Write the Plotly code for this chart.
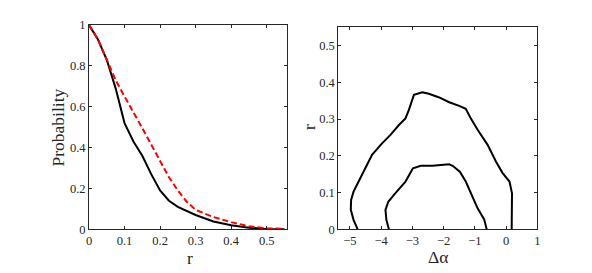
import plotly.graph_objects as go

# Left panel: probability vs r
r_black = [0, 0.025, 0.05, 0.075, 0.1, 0.125, 0.15, 0.175, 0.2, 0.225, 0.25, 0.3, 0.35, 0.4, 0.45, 0.5, 0.55]
p_black = [1, 0.93, 0.83, 0.69, 0.52, 0.43, 0.36, 0.27, 0.19, 0.14, 0.11, 0.07, 0.038, 0.02, 0.008, 0.002, 0]
r_red = [0, 0.025, 0.05, 0.075, 0.1, 0.125, 0.15, 0.175, 0.2, 0.225, 0.25, 0.275, 0.3, 0.35, 0.4, 0.45, 0.5, 0.55]
p_red = [1, 0.93, 0.83, 0.73, 0.65, 0.575, 0.495, 0.415, 0.335, 0.255, 0.19, 0.135, 0.095, 0.06, 0.035, 0.015, 0.005, 0.002]

# Right panel: contours in (delta alpha, r)
outer_da = [-4.75, -4.88, -4.97, -4.96, -4.88, -4.61, -4.29, -3.97, -3.70, -3.43, -3.22, -3.11, -2.95, -2.68,
            -2.47, -2.14, -1.82, -1.50, -1.29, -1.13, -0.91, -0.59, -0.32, -0.11, 0.11, 0.19, 0.18, 0.18]
outer_r = [0, 0.025, 0.053, 0.080, 0.103, 0.148, 0.203, 0.234, 0.257, 0.284, 0.302, 0.325, 0.366, 0.373,
           0.369, 0.359, 0.346, 0.336, 0.328, 0.302, 0.271, 0.230, 0.184, 0.153, 0.130, 0.098, 0.062, 0]
inner_da = [-3.75, -3.83, -3.86, -3.77, -3.59, -3.38, -3.22, -2.98, -2.73, -2.36, -1.82, -1.71, -1.48, -1.29,
            -1.07, -0.91, -0.70, -0.62]
inner_r = [0, 0.025, 0.053, 0.075, 0.094, 0.116, 0.130, 0.166, 0.173, 0.173, 0.177, 0.173, 0.157, 0.130,
           0.089, 0.057, 0.027, 0]

left_xticks = [0, 0.1, 0.2, 0.3, 0.4, 0.5]
left_yticks = [0, 0.2, 0.4, 0.6, 0.8, 1]
right_xticks = [-5, -4, -3, -2, -1, 0, 1]
right_yticks = [0, 0.1, 0.2, 0.3, 0.4, 0.5]

# page body has an 8px margin; figure sized so it fills the window exactly
OFF = 8
W, H = 592 - OFF, 273 - OFF
FONT = "Liberation Serif"


def px(x):
    return (x - OFF) / W


def py(y):
    return 1 - (y - OFF) / H


fig = go.Figure()
fig.add_trace(go.Scatter(x=r_black, y=p_black, mode="lines", line=dict(color="black", width=2),
                         xaxis="x", yaxis="y", showlegend=False))
fig.add_trace(go.Scatter(x=r_red, y=p_red, mode="lines", line=dict(color="red", width=2, dash="6px,3px"),
                         xaxis="x", yaxis="y", showlegend=False))
fig.add_trace(go.Scatter(x=outer_da, y=outer_r, mode="lines", line=dict(color="black", width=2),
                         xaxis="x2", yaxis="y2", showlegend=False))
fig.add_trace(go.Scatter(x=inner_da, y=inner_r, mode="lines", line=dict(color="black", width=2),
                         xaxis="x2", yaxis="y2", showlegend=False))

common = dict(showgrid=False, zeroline=False, showline=True, linecolor="#262626", linewidth=1,
              mirror="ticks", ticks="inside", ticklen=3, tickcolor="#262626", automargin=False,
              tickfont=dict(family=FONT, size=12.5, color="#262626"))

title_font = dict(family=FONT, size=17.5, color="#262626")

fig.update_layout(
    width=W, height=H,
    margin=dict(l=0, r=0, t=0, b=0, autoexpand=False),
    paper_bgcolor="white", plot_bgcolor="white",
    font=dict(family=FONT, color="#262626"),
    xaxis=dict(domain=[px(89), px(287.3)], range=[0, 0.558], tickvals=left_xticks,
               ticktext=[str(v) for v in left_xticks], anchor="y", **common),
    yaxis=dict(domain=[py(229.3), py(25)], range=[0, 1], tickvals=left_yticks,
               ticktext=[str(v) for v in left_yticks], anchor="x", **common),
    xaxis2=dict(domain=[px(338.3), px(537.3)], range=[-5.37, 1], tickvals=right_xticks, anchor="y2", **common),
    yaxis2=dict(domain=[py(229.3), py(27.3)], range=[0, 0.55], tickvals=right_yticks,
                ticktext=[str(v) for v in right_yticks], anchor="x2", **common),
    annotations=[
        dict(text="r", x=px(190), y=py(245.5), xref="paper", yref="paper", showarrow=False,
             xanchor="center", yanchor="top", font=title_font),
        dict(text="Probability", x=px(57), y=py(127.5), xref="paper", yref="paper", showarrow=False,
             xanchor="center", yanchor="middle", textangle=-90, font=title_font),
        dict(text="Δα", x=px(438), y=py(244.5), xref="paper", yref="paper", showarrow=False,
             xanchor="center", yanchor="top", font=title_font),
        dict(text="r", x=px(309), y=py(127), xref="paper", yref="paper", showarrow=False,
             xanchor="center", yanchor="middle", textangle=-90, font=title_font),
    ],
)

fig.write_html("out.html")
